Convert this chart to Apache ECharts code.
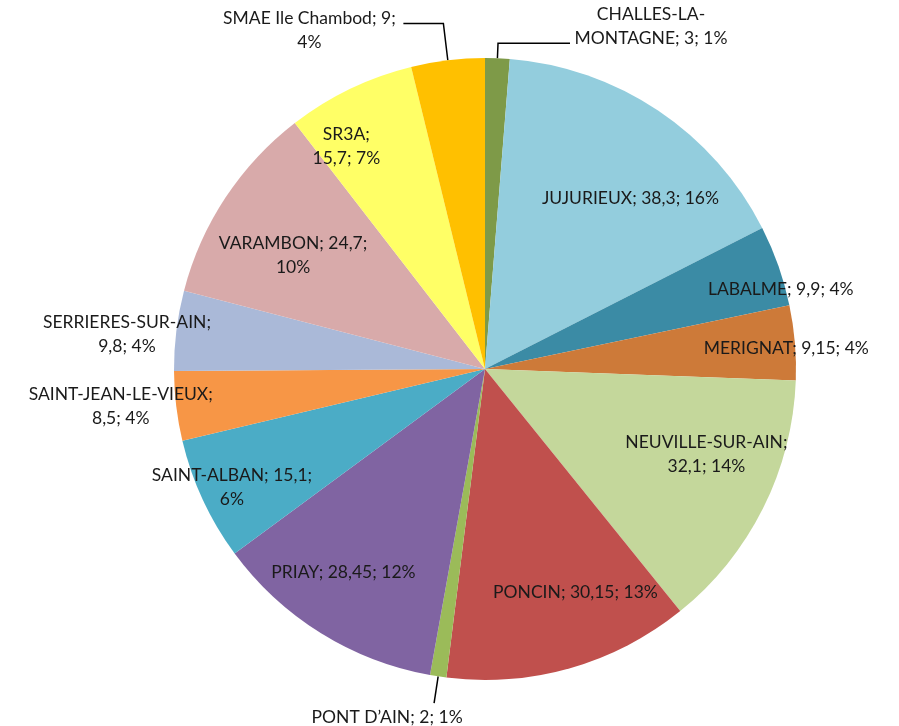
<!DOCTYPE html>
<html>
<head>
<meta charset="utf-8">
<script src="https://cdn.jsdelivr.net/npm/echarts@6/dist/echarts.min.js"></script>
<style>
html, body { margin: 0; background: #fff; }
#main { width: 899px; height: 726px; }
</style>
</head>
<body>
<div id="main"></div>
<script>
// data, clockwise from the top
const names = ['CHALLES-LA-MONTAGNE', 'JUJURIEUX', 'LABALME', 'MERIGNAT', 'NEUVILLE-SUR-AIN',
    'PONCIN', 'PONT D\u2019AIN', 'PRIAY', 'SAINT-ALBAN', 'SAINT-JEAN-LE-VIEUX',
    'SERRIERES-SUR-AIN', 'VARAMBON', 'SR3A', 'SMAE Ile Chambod']
const values = [3, 38.3, 9.9, 9.15, 32.1, 30.15, 2, 28.45, 15.1, 8.5, 9.8, 24.7, 15.7, 9]

const colors = ['#7E9A48', '#93CDDD', '#3B8BA5', '#CD7A39', '#C4D79B',
    '#C0504D', '#9BBB59', '#8064A2', '#4BACC6', '#F79646',
    '#AAB9D8', '#D8AAAA', '#FFFF66', '#FFC000']

// label placement (fraction of radius); leader = outside with a line
const R = 311
const center = [485, 369]
const labelRing = {
    'JUJURIEUX': 0.75, 'NEUVILLE-SUR-AIN': 0.74, 'PONCIN': 0.76, 'PRIAY': 0.76, 'VARAMBON': 0.73,
    'LABALME': 0.91, 'MERIGNAT': 0.84, 'SAINT-ALBAN': 0.88, 'SR3A': 0.84,
    'SAINT-JEAN-LE-VIEUX': 1.17, 'SERRIERES-SUR-AIN': 1.17,
}
const leader = {
    'CHALLES-LA-MONTAGNE': { length: 15, length2: 72 },
    'PONT D\u2019AIN': { length: 27, length2: 0 },
    'SMAE Ile Chambod': { length: 37, length2: 40 },
}
// small nudges to sit the labels where Excel put them
const labelShift = {
    'JUJURIEUX': [14, 26], 'LABALME': [26, 15], 'MERIGNAT': [38, 2], 'NEUVILLE-SUR-AIN': [13, -19],
    'PONCIN': [25, -7], 'PRIAY': [-15, 0], 'SAINT-ALBAN': [-2, 2], 'SAINT-JEAN-LE-VIEUX': [0, -6],
    'SERRIERES-SUR-AIN': [6, 11], 'VARAMBON': [0, 13], 'SR3A': [-24, 15],
    'CHALLES-LA-MONTAGNE': [76, -17], 'PONT D\u2019AIN': [-42, 14], 'SMAE Ile Chambod': [-89, 7],
}
// where the label wraps
const wrap = {
    'CHALLES-LA-MONTAGNE': 'hyphen', 'NEUVILLE-SUR-AIN': 'name', 'SAINT-ALBAN': 'value',
    'SAINT-JEAN-LE-VIEUX': 'name', 'SERRIERES-SUR-AIN': 'name', 'VARAMBON': 'value',
    'SR3A': 'name', 'SMAE Ile Chambod': 'value',
}

const total = values.reduce((a, b) => a + b, 0)
function labelText(i) {
    let name = names[i]
    let v = String(values[i]).replace('.', ',')
    let pct = Math.round(values[i] / total * 100) + '%'
    let w = wrap[name]
    if (w === 'hyphen') return 'CHALLES-LA-\nMONTAGNE; ' + v + '; ' + pct
    if (w === 'name') return name + ';\n' + v + '; ' + pct
    if (w === 'value') return name + '; ' + v + ';\n' + pct
    return name + '; ' + v + '; ' + pct
}

const font = { fontFamily: 'Lato', fontSize: 17.5, color: '#1a1a1a', lineHeight: 24 }

function shiftLabel(params) {
    let s = labelShift[names[params.dataIndex]]
    if (!s) return {}
    let out = { dx: s[0], dy: s[1] }
    if (leader[names[params.dataIndex]]) out.align = 'center'
    return out
}

let series = [{
    type: 'pie',
    center: center,
    radius: R,
    startAngle: 90,
    clockwise: true,
    silent: true,
    avoidLabelOverlap: false,
    labelLayout: shiftLabel,
    data: names.map((n, i) => ({
        name: n,
        value: values[i],
        itemStyle: { color: colors[i] },
        label: leader[n] ? { show: true, position: 'outside', formatter: () => labelText(i), ...font } : { show: false },
        labelLine: leader[n] ? { show: true, ...leader[n], lineStyle: { color: '#000', width: 1.5 } } : { show: false },
    })),
}]

// transparent rings carrying the inside labels at the wanted radius
const rings = [...new Set(Object.values(labelRing))]
for (let m of rings) {
    series.push({
        type: 'pie',
        center: center,
        radius: [(m - 0.02) * R, (m + 0.02) * R],
        startAngle: 90,
        clockwise: true,
        silent: true,
        avoidLabelOverlap: false,
        labelLayout: shiftLabel,
        itemStyle: { color: 'rgba(0,0,0,0)' },
        data: names.map((n, i) => ({
            name: n,
            value: values[i],
            label: labelRing[n] === m
                ? { show: true, position: 'inside', formatter: () => labelText(i), ...font }
                : { show: false },
            labelLine: { show: false },
        })),
    })
}

const chart = echarts.init(document.getElementById('main'))
chart.setOption({
    animation: false,
    series: series,
})
</script>
</body>
</html>
